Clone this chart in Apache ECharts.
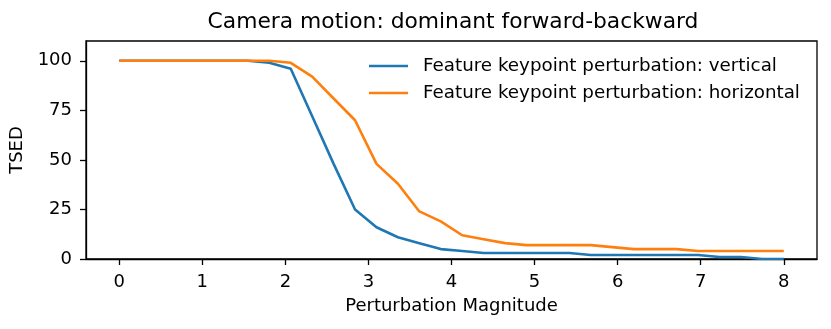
<!DOCTYPE html>
<html>
<head>
<meta charset="utf-8">
<script src="https://cdn.jsdelivr.net/npm/echarts@6/dist/echarts.min.js"></script>
<style>
html,body{margin:0;padding:0;background:#fff;}
#chart{width:831px;height:329px;}
</style>
</head>
<body>
<div id="chart"></div>
<script>
const magnitudes = [0, 0.258, 0.516, 0.774, 1.032, 1.290, 1.548, 1.806, 2.065, 2.323, 2.581, 2.839, 3.097, 3.355, 3.613, 3.871, 4.129, 4.387, 4.645, 4.903, 5.161, 5.419, 5.677, 5.935, 6.194, 6.452, 6.710, 6.968, 7.226, 7.484, 7.742, 8];
const verticalTSED = [100, 100, 100, 100, 100, 100, 100, 99, 96, 72, 48, 25, 16, 11, 8, 5, 4, 3, 3, 3, 3, 3, 2, 2, 2, 2, 2, 2, 1, 1, 0, 0];
const horizontalTSED = [100, 100, 100, 100, 100, 100, 100, 100, 99, 92, 81, 70, 48, 38, 24, 19, 12, 10, 8, 7, 7, 7, 7, 6, 5, 5, 5, 4, 4, 4, 4, 4];
const xTicks = [0, 1, 2, 3, 4, 5, 6, 7, 8];
const yTicks = [0, 25, 50, 75, 100];
const seriesNames = ['Feature keypoint perturbation: vertical', 'Feature keypoint perturbation: horizontal'];
const titleText = 'Camera motion: dominant forward-backward';
const xName = 'Perturbation Magnitude';
const yName = 'TSED';

const font = 'DejaVu Sans';
const chart = echarts.init(document.getElementById('chart'), null, {renderer: 'canvas'});
const pair = (xs, ys) => xs.map((x, i) => [x, ys[i]]);
chart.setOption({
  animation: false,
  backgroundColor: '#fff',
  title: {
    text: titleText, left: 448, top: 6, textAlign: 'center',
    textStyle: {fontFamily: font, fontSize: 21.8, fontWeight: 'normal', color: '#000'}
  },
  legend: {
    orient: 'vertical', left: 364, top: 51, itemGap: 7,
    icon: 'rect', itemWidth: 39, itemHeight: 2.5,
    textStyle: {fontFamily: font, fontSize: 18.3, color: '#000', lineHeight: 20, padding: [0, 0, 0, 10]},
    data: seriesNames
  },
  grid: {left: 86, right: 14, top: 41, bottom: 70, show: true, borderColor: '#000', borderWidth: 1.3, outerBoundsMode: 'none', containLabel: false},
  xAxis: {
    type: 'value', min: -0.4, max: 8.4,
    name: xName, nameLocation: 'middle', nameGap: 38,
    nameTextStyle: {fontFamily: font, fontSize: 18, color: '#000'},
    axisLine: {show: true, onZero: false, lineStyle: {color: '#000', width: 1.3}},
    axisTick: {show: true, length: 6, lineStyle: {color: '#000', width: 1.3}, customValues: xTicks},
    axisLabel: {fontFamily: font, fontSize: 18, color: '#000', margin: 14, customValues: xTicks},
    splitLine: {show: false}
  },
  yAxis: {
    type: 'value', min: 0, max: 110,
    name: yName, nameLocation: 'middle', nameGap: 54, nameRotate: 90,
    nameTextStyle: {fontFamily: font, fontSize: 18, color: '#000'},
    axisLine: {show: true, onZero: false, lineStyle: {color: '#000', width: 1.3}},
    axisTick: {show: true, length: 6, lineStyle: {color: '#000', width: 1.3}, customValues: yTicks},
    axisLabel: {fontFamily: font, fontSize: 18, color: '#000', margin: 14, customValues: yTicks},
    splitLine: {show: false}
  },
  series: [
    {name: seriesNames[0], type: 'line', data: pair(magnitudes, verticalTSED), showSymbol: false, symbol: 'none', lineStyle: {color: '#1f77b4', width: 2.6}, itemStyle: {color: '#1f77b4'}, z: 2},
    {name: seriesNames[1], type: 'line', data: pair(magnitudes, horizontalTSED), showSymbol: false, symbol: 'none', lineStyle: {color: '#ff7f0e', width: 2.6}, itemStyle: {color: '#ff7f0e'}, z: 3}
  ]
});
</script>
</body>
</html>
